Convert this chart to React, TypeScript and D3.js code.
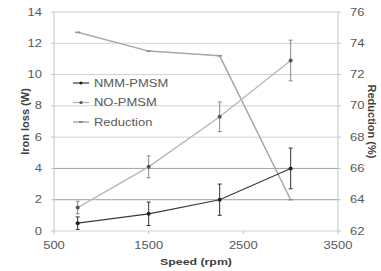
import * as d3 from 'd3'

const speeds = [750, 1500, 2250, 3000]
const nmmLoss = [0.5, 1.1, 2.0, 4.0]
const nmmErr = [0.4, 0.75, 1.0, 1.3]
const noLoss = [1.5, 4.1, 7.3, 10.9]
const noErr = [0.4, 0.7, 0.95, 1.3]
const reduction = [74.7, 73.5, 73.2, 64.0]

const xTicks = [500, 1500, 2500, 3500]
const yLeftTicks = [0, 2, 4, 6, 8, 10, 12, 14]
const yRightTicks = [62, 64, 66, 68, 70, 72, 74, 76]

const legendItems = ['NMM-PMSM', 'NO-PMSM', 'Reduction']

const W = 381
const H = 271
const FONT = '"Liberation Sans", Arial, sans-serif'
const SX = 1.3 // text in the reference is stretched sideways

export default function App() {
  const x = d3.scaleLinear().domain([500, 3500]).range([54, 338])
  const yL = d3.scaleLinear().domain([0, 14]).range([231, 12])
  const yR = d3.scaleLinear().domain([62, 76]).range([231, 12])

  const lossLine = d3.line<number>().x((_, i) => x(speeds[i])).y((d) => yL(d))
  const redLine = d3.line<number>().x((_, i) => x(speeds[i])).y((d) => yR(d))

  const series = [
    { vals: nmmLoss, err: nmmErr, color: '#3a3a3a', width: 1.2 },
    { vals: noLoss, err: noErr, color: '#b8b8b8', width: 1.4 },
  ]
  const legendColors = ['#3a3a3a', '#b0b0b0', '#a8a8a8']

  return (
    <div style={{ position: 'fixed', left: 0, top: 0 }}>
      <svg width={W} height={H} style={{ display: 'block', background: '#fff' }}>
        {/* grid (the 2 and 4 lines are darker in the original) */}
        {yLeftTicks.map((t) => (
          <line key={'g' + t} x1={x(500)} x2={x(3500)} y1={yL(t)} y2={yL(t)}
            stroke={t === 2 || t === 4 ? '#a0a0a0' : '#d2d2d2'} strokeWidth={1} />
        ))}
        {/* axes */}
        <line x1={x(500)} x2={x(500)} y1={yL(0)} y2={yL(14)} stroke="#c4c4c4" />
        <line x1={x(3500)} x2={x(3500)} y1={yL(0)} y2={yL(14)} stroke="#c4c4c4" />
        {yLeftTicks.map((t) => (
          <line key={'lt' + t} x1={x(500) - 3} x2={x(500)} y1={yL(t)} y2={yL(t)} stroke="#c4c4c4" />
        ))}
        {yRightTicks.map((t) => (
          <line key={'rt' + t} x1={x(3500)} x2={x(3500) + 3} y1={yR(t)} y2={yR(t)} stroke="#c4c4c4" />
        ))}
        {xTicks.map((t) => (
          <line key={'xt' + t} x1={x(t)} x2={x(t)} y1={yL(0)} y2={yL(0) + 3} stroke="#c4c4c4" />
        ))}

        {/* tick labels */}
        {yLeftTicks.map((t) => (
          <text key={'ll' + t} transform={`translate(42,${yL(t) + 3.5}) scale(${SX},1)`} textAnchor="end"
            fontFamily={FONT} fontSize={10} fill="#595959">{t}</text>
        ))}
        {yRightTicks.map((t) => (
          <text key={'rl' + t} transform={`translate(350,${yR(t) + 3.5}) scale(${SX},1)`} textAnchor="start"
            fontFamily={FONT} fontSize={10} fill="#595959">{t}</text>
        ))}
        {xTicks.map((t) => (
          <text key={'xl' + t} transform={`translate(${x(t)},${yL(0) + 18}) scale(${SX},1)`} textAnchor="middle"
            fontFamily={FONT} fontSize={10} fill="#595959">{t}</text>
        ))}

        {/* axis titles */}
        <text transform={`translate(${(x(500) + x(3500)) / 2},265) scale(${SX},1)`} textAnchor="middle"
          fontFamily={FONT} fontSize={9.5} fontWeight="bold" fill="#404040">Speed (rpm)</text>
        <text transform={`translate(29,${(yL(0) + yL(14)) / 2}) rotate(-90)`} textAnchor="middle"
          fontFamily={FONT} fontSize={11} fontWeight="bold" fill="#404040">Iron loss (W)</text>
        <text transform={`translate(368,${(yL(0) + yL(14)) / 2}) rotate(90)`} textAnchor="middle"
          fontFamily={FONT} fontSize={11} fontWeight="bold" fill="#404040">Reduction (%)</text>

        {/* reduction line */}
        <path d={redLine(reduction) ?? ''} fill="none" stroke="#a8a8a8" strokeWidth={1.5} />
        {reduction.map((v, i) => (
          <line key={'rm' + i} x1={x(speeds[i]) - 2.5} x2={x(speeds[i]) + 2.5} y1={yR(v)} y2={yR(v)} stroke="#909090" strokeWidth={1.5} />
        ))}

        {/* loss series with error bars */}
        {series.map((s, si) => (
          <g key={'s' + si}>
            <path d={lossLine(s.vals) ?? ''} fill="none" stroke={s.color} strokeWidth={s.width} />
            {s.vals.map((v, i) => (
              <g key={i}>
                <line x1={x(speeds[i])} x2={x(speeds[i])} y1={yL(v - s.err[i])} y2={yL(v + s.err[i])} stroke={si === 0 ? '#333' : '#8a8a8a'} strokeWidth={1} />
                <line x1={x(speeds[i]) - 2} x2={x(speeds[i]) + 2} y1={yL(v - s.err[i])} y2={yL(v - s.err[i])} stroke={si === 0 ? '#333' : '#8a8a8a'} />
                <line x1={x(speeds[i]) - 2} x2={x(speeds[i]) + 2} y1={yL(v + s.err[i])} y2={yL(v + s.err[i])} stroke={si === 0 ? '#333' : '#8a8a8a'} />
                <circle cx={x(speeds[i])} cy={yL(v)} r={2} fill={si === 0 ? '#222' : '#555'} />
              </g>
            ))}
          </g>
        ))}

        {/* legend */}
        {legendItems.map((name, i) => (
          <g key={name} transform={`translate(73,${83 + i * 19.5})`}>
            <line x1={0} x2={16} y1={0} y2={0} stroke={legendColors[i]} strokeWidth={i === 2 ? 1.5 : 1.2} />
            {i < 2 ? <circle cx={8} cy={0} r={1.6} fill={i === 0 ? '#222' : '#555'} /> :
              <line x1={6} x2={10} y1={0} y2={0} stroke="#909090" strokeWidth={2} />}
            <text transform={`translate(21,3.5) scale(${SX},1)`} fontFamily={FONT} fontSize={10} fill="#595959">{name}</text>
          </g>
        ))}
      </svg>
    </div>
  )
}
